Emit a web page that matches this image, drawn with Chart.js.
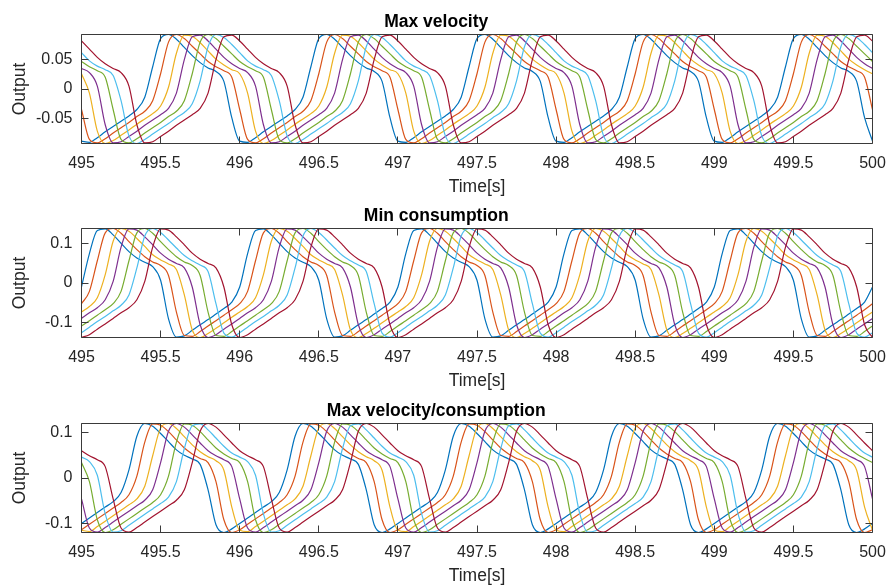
<!DOCTYPE html>
<html><head><meta charset="utf-8">
<script src="https://cdn.jsdelivr.net/npm/chart.js@4/dist/chart.umd.min.js"></script>
<style>
html,body{margin:0;padding:0;background:#fff;overflow:hidden;width:888px;height:586px}
canvas.c{position:absolute;left:0}
</style></head><body>
<canvas id="c1" class="c" width="888" height="198" style="top:0px"></canvas>
<canvas id="c2" class="c" width="888" height="198" style="top:194px"></canvas>
<canvas id="c3" class="c" width="888" height="198" style="top:389px"></canvas>
<script>
// ---------------- data ----------------
const time = [
495,495.05,495.1,495.15,495.2,495.25,495.3,495.35,495.4,495.45,495.5,495.55,495.6,495.65,495.7,495.75,495.8,495.85,495.9,495.95,
496,496.05,496.1,496.15,496.2,496.25,496.3,496.35,496.4,496.45,496.5,496.55,496.6,496.65,496.7,496.75,496.8,496.85,496.9,496.95,
497,497.05,497.1,497.15,497.2,497.25,497.3,497.35,497.4,497.45,497.5,497.55,497.6,497.65,497.7,497.75,497.8,497.85,497.9,497.95,
498,498.05,498.1,498.15,498.2,498.25,498.3,498.35,498.4,498.45,498.5,498.55,498.6,498.65,498.7,498.75,498.8,498.85,498.9,498.95,
499,499.05,499.1,499.15,499.2,499.25,499.3,499.35,499.4,499.45,499.5,499.55,499.6,499.65,499.7,499.75,499.8,499.85,499.9,499.95,
500];

const xTickValues = [495,495.5,496,496.5,497,497.5,498,498.5,499,499.5,500];
const xTickLabels = ['495','495.5','496','496.5','497','497.5','498','498.5','499','499.5','500'];
const xLabel = 'Time[s]';
const yLabel = 'Output';

const titles = ['Max velocity','Min consumption','Max velocity/consumption'];

const yLimTop = [-0.093, 0.093];
const yLimMid = [-0.137, 0.137];
const yLimBot = [-0.12, 0.12];
const yTicksTop = [-0.05, 0, 0.05];
const yTickLabelsTop = ['-0.05','0','0.05'];
const yTicksMid = [-0.1, 0, 0.1];
const yTickLabelsMid = ['-0.1','0','0.1'];
const yTicksBot = [-0.1, 0, 0.1];
const yTickLabelsBot = ['-0.1','0','0.1'];

// Max velocity
const topBlue = [
-.089,-.091,-.083,-.073,-.064,-.055,-.046,-.035,-.014,.038,.086,.093,.085,.071,.057,.045,.036,.030,.013,-.049,
-.089,-.091,-.083,-.073,-.064,-.055,-.046,-.035,-.014,.038,.086,.093,.085,.071,.057,.045,.036,.030,.013,-.049,
-.089,-.091,-.083,-.073,-.064,-.055,-.046,-.035,-.014,.038,.086,.093,.085,.071,.057,.045,.036,.030,.013,-.049,
-.089,-.091,-.083,-.073,-.064,-.055,-.046,-.035,-.014,.038,.086,.093,.085,.071,.057,.045,.036,.030,.013,-.049,
-.089,-.091,-.083,-.073,-.064,-.055,-.046,-.035,-.014,.038,.086,.093,.085,.071,.057,.045,.036,.030,.013,-.049,
-.089];
const topOrange = [
-.035,-.086,-.092,-.085,-.075,-.066,-.057,-.047,-.038,-.020,.026,.080,.093,.086,.073,.060,.047,.038,.031,.020,
-.035,-.086,-.092,-.085,-.075,-.066,-.057,-.047,-.038,-.020,.026,.080,.093,.086,.073,.060,.047,.038,.031,.020,
-.035,-.086,-.092,-.085,-.075,-.066,-.057,-.047,-.038,-.020,.026,.080,.093,.086,.073,.060,.047,.038,.031,.020,
-.035,-.086,-.092,-.085,-.075,-.066,-.057,-.047,-.038,-.020,.026,.080,.093,.086,.073,.060,.047,.038,.031,.020,
-.035,-.086,-.092,-.085,-.075,-.066,-.057,-.047,-.038,-.020,.026,.080,.093,.086,.073,.060,.047,.038,.031,.020,
-.035];
const topYellow = [
.026,-.007,-.072,-.093,-.088,-.079,-.070,-.060,-.051,-.042,-.029,.003,.061,.092,.090,.079,.065,.051,.041,.033,
.026,-.007,-.072,-.093,-.088,-.079,-.070,-.060,-.051,-.042,-.029,.003,.061,.092,.090,.079,.065,.051,.041,.033,
.026,-.007,-.072,-.093,-.088,-.079,-.070,-.060,-.051,-.042,-.029,.003,.061,.092,.090,.079,.065,.051,.041,.033,
.026,-.007,-.072,-.093,-.088,-.079,-.070,-.060,-.051,-.042,-.029,.003,.061,.092,.090,.079,.065,.051,.041,.033,
.026,-.007,-.072,-.093,-.088,-.079,-.070,-.060,-.051,-.042,-.029,.003,.061,.092,.090,.079,.065,.051,.041,.033,
.026];
const topPurple = [
.035,.028,.005,-.061,-.092,-.090,-.081,-.072,-.062,-.053,-.044,-.033,-.007,.050,.089,.092,.082,.068,.054,.043,
.035,.028,.005,-.061,-.092,-.090,-.081,-.072,-.062,-.053,-.044,-.033,-.007,.050,.089,.092,.082,.068,.054,.043,
.035,.028,.005,-.061,-.092,-.090,-.081,-.072,-.062,-.053,-.044,-.033,-.007,.050,.089,.092,.082,.068,.054,.043,
.035,.028,.005,-.061,-.092,-.090,-.081,-.072,-.062,-.053,-.044,-.033,-.007,.050,.089,.092,.082,.068,.054,.043,
.035,.028,.005,-.061,-.092,-.090,-.081,-.072,-.062,-.053,-.044,-.033,-.007,.050,.089,.092,.082,.068,.054,.043,
.035];
const topGreen = [
.047,.038,.031,.020,-.035,-.086,-.092,-.085,-.075,-.066,-.057,-.047,-.038,-.020,.026,.080,.093,.086,.073,.060,
.047,.038,.031,.020,-.035,-.086,-.092,-.085,-.075,-.066,-.057,-.047,-.038,-.020,.026,.080,.093,.086,.073,.060,
.047,.038,.031,.020,-.035,-.086,-.092,-.085,-.075,-.066,-.057,-.047,-.038,-.020,.026,.080,.093,.086,.073,.060,
.047,.038,.031,.020,-.035,-.086,-.092,-.085,-.075,-.066,-.057,-.047,-.038,-.020,.026,.080,.093,.086,.073,.060,
.047,.038,.031,.020,-.035,-.086,-.092,-.085,-.075,-.066,-.057,-.047,-.038,-.020,.026,.080,.093,.086,.073,.060,
.047];
const topCyan = [
.062,.048,.039,.033,.023,-.020,-.080,-.093,-.086,-.077,-.068,-.059,-.049,-.040,-.025,.014,.072,.093,.088,.076,
.062,.048,.039,.033,.023,-.020,-.080,-.093,-.086,-.077,-.068,-.059,-.049,-.040,-.025,.014,.072,.093,.088,.076,
.062,.048,.039,.033,.023,-.020,-.080,-.093,-.086,-.077,-.068,-.059,-.049,-.040,-.025,.014,.072,.093,.088,.076,
.062,.048,.039,.033,.023,-.020,-.080,-.093,-.086,-.077,-.068,-.059,-.049,-.040,-.025,.014,.072,.093,.088,.076,
.062,.048,.039,.033,.023,-.020,-.080,-.093,-.086,-.077,-.068,-.059,-.049,-.040,-.025,.014,.072,.093,.088,.076,
.062];
const topRed = [
.082,.068,.054,.043,.035,.028,.005,-.061,-.092,-.090,-.081,-.072,-.062,-.053,-.044,-.033,-.007,.050,.089,.092,
.082,.068,.054,.043,.035,.028,.005,-.061,-.092,-.090,-.081,-.072,-.062,-.053,-.044,-.033,-.007,.050,.089,.092,
.082,.068,.054,.043,.035,.028,.005,-.061,-.092,-.090,-.081,-.072,-.062,-.053,-.044,-.033,-.007,.050,.089,.092,
.082,.068,.054,.043,.035,.028,.005,-.061,-.092,-.090,-.081,-.072,-.062,-.053,-.044,-.033,-.007,.050,.089,.092,
.082,.068,.054,.043,.035,.028,.005,-.061,-.092,-.090,-.081,-.072,-.062,-.053,-.044,-.033,-.007,.050,.089,.092,
.082];

// Min consumption
const midBlue = [
-.010,.074,.132,.136,.121,.100,.079,.063,.052,.041,.007,-.090,-.136,-.133,-.119,-.105,-.092,-.078,-.064,-.048,
-.010,.074,.132,.136,.121,.100,.079,.063,.052,.041,.007,-.090,-.136,-.133,-.119,-.105,-.092,-.078,-.064,-.048,
-.010,.074,.132,.136,.121,.100,.079,.063,.052,.041,.007,-.090,-.136,-.133,-.119,-.105,-.092,-.078,-.064,-.048,
-.010,.074,.132,.136,.121,.100,.079,.063,.052,.041,.007,-.090,-.136,-.133,-.119,-.105,-.092,-.078,-.064,-.048,
-.010,.074,.132,.136,.121,.100,.079,.063,.052,.041,.007,-.090,-.136,-.133,-.119,-.105,-.092,-.078,-.064,-.048,
-.010];
const midOrange = [
-.052,-.021,.056,.126,.137,.125,.104,.084,.066,.053,.044,.019,-.073,-.132,-.134,-.122,-.108,-.095,-.081,-.067,
-.052,-.021,.056,.126,.137,.125,.104,.084,.066,.053,.044,.019,-.073,-.132,-.134,-.122,-.108,-.095,-.081,-.067,
-.052,-.021,.056,.126,.137,.125,.104,.084,.066,.053,.044,.019,-.073,-.132,-.134,-.122,-.108,-.095,-.081,-.067,
-.052,-.021,.056,.126,.137,.125,.104,.084,.066,.053,.044,.019,-.073,-.132,-.134,-.122,-.108,-.095,-.081,-.067,
-.052,-.021,.056,.126,.137,.125,.104,.084,.066,.053,.044,.019,-.073,-.132,-.134,-.122,-.108,-.095,-.081,-.067,
-.052];
const midYellow = [
-.073,-.059,-.037,.021,.105,.137,.130,.112,.092,.071,.058,.048,.034,-.030,-.118,-.137,-.127,-.114,-.100,-.086,
-.073,-.059,-.037,.021,.105,.137,.130,.112,.092,.071,.058,.048,.034,-.030,-.118,-.137,-.127,-.114,-.100,-.086,
-.073,-.059,-.037,.021,.105,.137,.130,.112,.092,.071,.058,.048,.034,-.030,-.118,-.137,-.127,-.114,-.100,-.086,
-.073,-.059,-.037,.021,.105,.137,.130,.112,.092,.071,.058,.048,.034,-.030,-.118,-.137,-.127,-.114,-.100,-.086,
-.073,-.059,-.037,.021,.105,.137,.130,.112,.092,.071,.058,.048,.034,-.030,-.118,-.137,-.127,-.114,-.100,-.086,
-.073];
const midPurple = [
-.089,-.075,-.062,-.042,.004,.090,.136,.133,.116,.096,.075,.060,.049,.038,-.010,-.105,-.137,-.130,-.116,-.103,
-.089,-.075,-.062,-.042,.004,.090,.136,.133,.116,.096,.075,.060,.049,.038,-.010,-.105,-.137,-.130,-.116,-.103,
-.089,-.075,-.062,-.042,.004,.090,.136,.133,.116,.096,.075,.060,.049,.038,-.010,-.105,-.137,-.130,-.116,-.103,
-.089,-.075,-.062,-.042,.004,.090,.136,.133,.116,.096,.075,.060,.049,.038,-.010,-.105,-.137,-.130,-.116,-.103,
-.089,-.075,-.062,-.042,.004,.090,.136,.133,.116,.096,.075,.060,.049,.038,-.010,-.105,-.137,-.130,-.116,-.103,
-.089];
const midGreen = [
-.108,-.095,-.081,-.067,-.052,-.021,.056,.126,.137,.125,.104,.084,.066,.053,.044,.019,-.073,-.132,-.134,-.122,
-.108,-.095,-.081,-.067,-.052,-.021,.056,.126,.137,.125,.104,.084,.066,.053,.044,.019,-.073,-.132,-.134,-.122,
-.108,-.095,-.081,-.067,-.052,-.021,.056,.126,.137,.125,.104,.084,.066,.053,.044,.019,-.073,-.132,-.134,-.122,
-.108,-.095,-.081,-.067,-.052,-.021,.056,.126,.137,.125,.104,.084,.066,.053,.044,.019,-.073,-.132,-.134,-.122,
-.108,-.095,-.081,-.067,-.052,-.021,.056,.126,.137,.125,.104,.084,.066,.053,.044,.019,-.073,-.132,-.134,-.122,
-.108];
const midCyan = [
-.125,-.111,-.097,-.084,-.070,-.056,-.030,.038,.118,.137,.127,.108,.088,.069,.056,.045,.029,-.052,-.126,-.136,
-.125,-.111,-.097,-.084,-.070,-.056,-.030,.038,.118,.137,.127,.108,.088,.069,.056,.045,.029,-.052,-.126,-.136,
-.125,-.111,-.097,-.084,-.070,-.056,-.030,.038,.118,.137,.127,.108,.088,.069,.056,.045,.029,-.052,-.126,-.136,
-.125,-.111,-.097,-.084,-.070,-.056,-.030,.038,.118,.137,.127,.108,.088,.069,.056,.045,.029,-.052,-.126,-.136,
-.125,-.111,-.097,-.084,-.070,-.056,-.030,.038,.118,.137,.127,.108,.088,.069,.056,.045,.029,-.052,-.126,-.136,
-.125];
const midRed = [
-.137,-.130,-.116,-.103,-.089,-.075,-.062,-.042,.004,.090,.136,.133,.116,.096,.075,.060,.049,.038,-.010,-.105,
-.137,-.130,-.116,-.103,-.089,-.075,-.062,-.042,.004,.090,.136,.133,.116,.096,.075,.060,.049,.038,-.010,-.105,
-.137,-.130,-.116,-.103,-.089,-.075,-.062,-.042,.004,.090,.136,.133,.116,.096,.075,.060,.049,.038,-.010,-.105,
-.137,-.130,-.116,-.103,-.089,-.075,-.062,-.042,.004,.090,.136,.133,.116,.096,.075,.060,.049,.038,-.010,-.105,
-.137,-.130,-.116,-.103,-.089,-.075,-.062,-.042,.004,.090,.136,.133,.116,.096,.075,.060,.049,.038,-.010,-.105,
-.137];

// Max velocity/consumption
const botBlue = [
-.100,-.088,-.076,-.064,-.052,-.032,.018,.092,.120,.114,.098,.080,.062,.050,.042,.030,-.026,-.103,-.120,-.112,
-.100,-.088,-.076,-.064,-.052,-.032,.018,.092,.120,.114,.098,.080,.062,.050,.042,.030,-.026,-.103,-.120,-.112,
-.100,-.088,-.076,-.064,-.052,-.032,.018,.092,.120,.114,.098,.080,.062,.050,.042,.030,-.026,-.103,-.120,-.112,
-.100,-.088,-.076,-.064,-.052,-.032,.018,.092,.120,.114,.098,.080,.062,.050,.042,.030,-.026,-.103,-.120,-.112,
-.100,-.088,-.076,-.064,-.052,-.032,.018,.092,.120,.114,.098,.080,.062,.050,.042,.030,-.026,-.103,-.120,-.112,
-.100];
const botOrange = [
-.114,-.102,-.090,-.078,-.066,-.054,-.037,.004,.079,.119,.116,.102,.084,.066,.053,.043,.034,-.008,-.092,-.120,
-.114,-.102,-.090,-.078,-.066,-.054,-.037,.004,.079,.119,.116,.102,.084,.066,.053,.043,.034,-.008,-.092,-.120,
-.114,-.102,-.090,-.078,-.066,-.054,-.037,.004,.079,.119,.116,.102,.084,.066,.053,.043,.034,-.008,-.092,-.120,
-.114,-.102,-.090,-.078,-.066,-.054,-.037,.004,.079,.119,.116,.102,.084,.066,.053,.043,.034,-.008,-.092,-.120,
-.114,-.102,-.090,-.078,-.066,-.054,-.037,.004,.079,.119,.116,.102,.084,.066,.053,.043,.034,-.008,-.092,-.120,
-.114];
const botYellow = [
-.115,-.118,-.107,-.095,-.083,-.071,-.059,-.046,-.018,.049,.110,.120,.109,.091,.073,.058,.047,.038,.017,-.064,
-.115,-.118,-.107,-.095,-.083,-.071,-.059,-.046,-.018,.049,.110,.120,.109,.091,.073,.058,.047,.038,.017,-.064,
-.115,-.118,-.107,-.095,-.083,-.071,-.059,-.046,-.018,.049,.110,.120,.109,.091,.073,.058,.047,.038,.017,-.064,
-.115,-.118,-.107,-.095,-.083,-.071,-.059,-.046,-.018,.049,.110,.120,.109,.091,.073,.058,.047,.038,.017,-.064,
-.115,-.118,-.107,-.095,-.083,-.071,-.059,-.046,-.018,.049,.110,.120,.109,.091,.073,.058,.047,.038,.017,-.064,
-.115];
const botPurple = [
-.046,-.110,-.119,-.109,-.097,-.085,-.073,-.061,-.049,-.026,.034,.103,.120,.112,.095,.077,.060,.049,.040,.025,
-.046,-.110,-.119,-.109,-.097,-.085,-.073,-.061,-.049,-.026,.034,.103,.120,.112,.095,.077,.060,.049,.040,.025,
-.046,-.110,-.119,-.109,-.097,-.085,-.073,-.061,-.049,-.026,.034,.103,.120,.112,.095,.077,.060,.049,.040,.025,
-.046,-.110,-.119,-.109,-.097,-.085,-.073,-.061,-.049,-.026,.034,.103,.120,.112,.095,.077,.060,.049,.040,.025,
-.046,-.110,-.119,-.109,-.097,-.085,-.073,-.061,-.049,-.026,.034,.103,.120,.112,.095,.077,.060,.049,.040,.025,
-.046];
const botGreen = [
.034,-.008,-.092,-.120,-.114,-.102,-.090,-.078,-.066,-.054,-.037,.004,.079,.119,.116,.102,.084,.066,.053,.043,
.034,-.008,-.092,-.120,-.114,-.102,-.090,-.078,-.066,-.054,-.037,.004,.079,.119,.116,.102,.084,.066,.053,.043,
.034,-.008,-.092,-.120,-.114,-.102,-.090,-.078,-.066,-.054,-.037,.004,.079,.119,.116,.102,.084,.066,.053,.043,
.034,-.008,-.092,-.120,-.114,-.102,-.090,-.078,-.066,-.054,-.037,.004,.079,.119,.116,.102,.084,.066,.053,.043,
.034,-.008,-.092,-.120,-.114,-.102,-.090,-.078,-.066,-.054,-.037,.004,.079,.119,.116,.102,.084,.066,.053,.043,
.034];
const botCyan = [
.046,.036,.006,-.079,-.119,-.116,-.104,-.092,-.080,-.068,-.056,-.042,-.008,.065,.115,.119,.106,.088,.070,.055,
.046,.036,.006,-.079,-.119,-.116,-.104,-.092,-.080,-.068,-.056,-.042,-.008,.065,.115,.119,.106,.088,.070,.055,
.046,.036,.006,-.079,-.119,-.116,-.104,-.092,-.080,-.068,-.056,-.042,-.008,.065,.115,.119,.106,.088,.070,.055,
.046,.036,.006,-.079,-.119,-.116,-.104,-.092,-.080,-.068,-.056,-.042,-.008,.065,.115,.119,.106,.088,.070,.055,
.046,.036,.006,-.079,-.119,-.116,-.104,-.092,-.080,-.068,-.056,-.042,-.008,.065,.115,.119,.106,.088,.070,.055,
.046];
const botRed = [
.060,.049,.040,.025,-.046,-.110,-.119,-.109,-.097,-.085,-.073,-.061,-.049,-.026,.034,.103,.120,.112,.095,.077,
.060,.049,.040,.025,-.046,-.110,-.119,-.109,-.097,-.085,-.073,-.061,-.049,-.026,.034,.103,.120,.112,.095,.077,
.060,.049,.040,.025,-.046,-.110,-.119,-.109,-.097,-.085,-.073,-.061,-.049,-.026,.034,.103,.120,.112,.095,.077,
.060,.049,.040,.025,-.046,-.110,-.119,-.109,-.097,-.085,-.073,-.061,-.049,-.026,.034,.103,.120,.112,.095,.077,
.060,.049,.040,.025,-.046,-.110,-.119,-.109,-.097,-.085,-.073,-.061,-.049,-.026,.034,.103,.120,.112,.095,.077,
.060];

// ---------------- styles ----------------
const lineColors = ['#0072BD','#D95319','#EDB120','#7E2F8E','#77AC30','#4DBEEE','#A2142F'];
const FONT = '"Liberation Sans", Arial, Helvetica, sans-serif';
const TXT = '#262626';

Chart.defaults.font.family = FONT;
Chart.defaults.color = TXT;

const boxPlugin = {
  id: 'matlabBox',
  afterDatasetsDraw(chart, args, opts) {
    const {ctx, chartArea: a, scales} = chart;
    const sx = scales.x, sy = scales.y;
    const L = Math.floor(a.left) + 0.5, R = Math.floor(a.right) + 0.5;
    const T = Math.floor(a.top) + 0.5, B = Math.floor(a.bottom) + 0.5;
    const tl = 7;
    ctx.save();
    ctx.strokeStyle = '#3a3a3a';
    ctx.lineWidth = 1;
    ctx.beginPath();
    ctx.rect(L, T, R - L, B - T);
    opts.xTicks.forEach(v => {
      const x = Math.floor(sx.getPixelForValue(v)) + 0.5;
      ctx.moveTo(x, B); ctx.lineTo(x, B - tl);
      ctx.moveTo(x, T); ctx.lineTo(x, T + tl);
    });
    opts.yTicks.forEach(v => {
      const y = Math.floor(sy.getPixelForValue(v)) + 0.5;
      ctx.moveTo(L, y); ctx.lineTo(L + tl, y);
      ctx.moveTo(R, y); ctx.lineTo(R - tl, y);
    });
    ctx.stroke();
    ctx.restore();
  }
};

function labelFor(v, vals, labels) {
  for (let i = 0; i < vals.length; i++) if (Math.abs(vals[i] - v) < 1e-9) return labels[i];
  return '';
}

function makeChart(id, title, seriesList, yLim, yTicks, yTickLabels) {
  const datasets = seriesList.map((arr, i) => ({
    data: time.map((t, k) => ({x: t, y: arr[k]})),
    borderColor: lineColors[i],
    backgroundColor: lineColors[i],
    borderWidth: 1.2,
    pointRadius: 0,
    fill: false,
    cubicInterpolationMode: 'monotone',
    order: seriesList.length - i
  }));
  return new Chart(document.getElementById(id), {
    type: 'line',
    data: {datasets},
    plugins: [boxPlugin],
    options: {
      responsive: false,
      animation: false,
      devicePixelRatio: 1,
      events: [],
      layout: {padding: {left: 0, right: 15.5, top: 0, bottom: 0}},
      plugins: {
        legend: {display: false},
        tooltip: {enabled: false},
        title: {display: true, text: title, color: '#000',
                font: {size: 17.5, weight: 'bold', family: FONT},
                padding: {top: 12, bottom: 1.5}},
        matlabBox: {xTicks: xTickValues, yTicks: yTicks}
      },
      scales: {
        x: {
          type: 'linear', min: xTickValues[0], max: xTickValues[xTickValues.length - 1],
          afterBuildTicks: s => { s.ticks = xTickValues.map(v => ({value: v})); },
          afterFit: s => { s.height = 54.5; s.paddingLeft = 0; s.paddingRight = 0; },
          grid: {display: false, drawTicks: false},
          border: {display: false},
          ticks: {padding: 10, autoSkip: false, maxRotation: 0, color: TXT,
                  font: {size: 16},
                  callback: v => labelFor(v, xTickValues, xTickLabels)},
          title: {display: true, text: xLabel, color: TXT, font: {size: 17.5},
                  padding: {top: 0, bottom: 0}}
        },
        y: {
          type: 'linear', min: yLim[0], max: yLim[1],
          afterBuildTicks: s => { s.ticks = yTicks.map(v => ({value: v})); },
          afterFit: s => { s.width = 81.5; s.paddingTop = 0; s.paddingBottom = 0; },
          grid: {display: false, drawTicks: false},
          border: {display: false},
          ticks: {padding: 9, color: TXT, font: {size: 16},
                  callback: v => labelFor(v, yTicks, yTickLabels)},
          title: {display: true, text: yLabel, color: TXT, font: {size: 17.5},
                  padding: {top: 10, bottom: 0}}
        }
      }
    }
  });
}

makeChart('c1', titles[0], [topBlue, topOrange, topYellow, topPurple, topGreen, topCyan, topRed],
          yLimTop, yTicksTop, yTickLabelsTop);
makeChart('c2', titles[1], [midBlue, midOrange, midYellow, midPurple, midGreen, midCyan, midRed],
          yLimMid, yTicksMid, yTickLabelsMid);
makeChart('c3', titles[2], [botBlue, botOrange, botYellow, botPurple, botGreen, botCyan, botRed],
          yLimBot, yTicksBot, yTickLabelsBot);
</script>
</body></html>
